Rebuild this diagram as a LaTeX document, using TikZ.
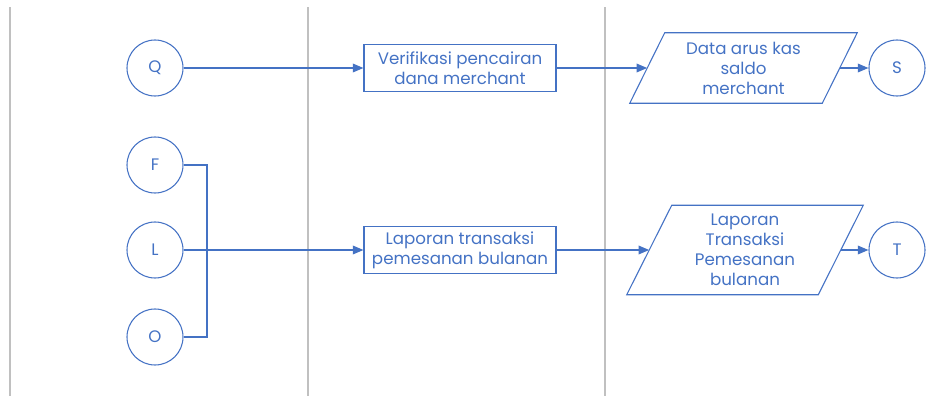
\documentclass[tikz,border=0pt]{standalone}
\usepackage{fontspec}
\setmainfont{Poppins}
\usetikzlibrary{arrows.meta}
\definecolor{flowblue}{HTML}{4472C4}
\definecolor{lanegray}{HTML}{C0C0C0}
\begin{document}
\begin{tikzpicture}[x=0.75pt,y=-0.75pt,
  lane/.style={draw=lanegray, line width=0.8pt},
  conn/.style={draw=flowblue, line width=1pt},
  arr/.style={conn, -{Triangle[length=8pt,width=6.5pt]}},
  txt/.style={text=flowblue, font=\fontsize{12.5}{15}\selectfont, align=center},
  offpage/.style={txt, circle, draw=flowblue, line width=0.8pt, minimum size=42pt, inner sep=0pt},
  procbox/.style={txt, rectangle, draw=flowblue, line width=0.8pt, minimum width=144pt, minimum height=35.25pt, inner sep=0pt},
  datafield/.style={txt, rectangle, inner sep=0pt}
]
\useasboundingbox (0,0) rectangle (936,396);

% swimlane separators
\draw[lane] (10,7) -- (10,396);
\draw[lane] (308,7) -- (308,396);
\draw[lane] (605,7) -- (605,396);

% off-page connectors
\node[offpage] (Q) at (155,68) {Q};
\node[offpage] (F) at (155,165) {F};
\node[offpage] (L) at (155,250) {L};
\node[offpage] (O) at (155,337) {O};
\node[offpage] (S) at (897,68) {S};
\node[offpage] (T) at (897,250) {T};

% processes
\node[procbox] (verif) at (460,68) {Verifikasi pencairan\\dana merchant};
\node[procbox] (lapor) at (460,250) {Laporan transaksi\\pemesanan bulanan};

% data (parallelograms)
\node[datafield, minimum width=144pt, minimum height=52.5pt] (kas) at (743.5,68) {Data arus kas\\saldo\\merchant};
\draw[conn, line width=0.8pt] ([xshift=13.125pt]kas.north west) -- ([xshift=13.125pt]kas.north east)
  -- ([xshift=-13.125pt]kas.south east) -- ([xshift=-13.125pt]kas.south west) -- cycle;

\node[datafield, minimum width=143.25pt, minimum height=66.75pt] (rep) at (745,250) {Laporan\\Transaksi\\Pemesanan\\bulanan};
\draw[conn, line width=0.8pt] ([xshift=16.875pt]rep.north west) -- ([xshift=16.875pt]rep.north east)
  -- ([xshift=-16.875pt]rep.south east) -- ([xshift=-16.875pt]rep.south west) -- cycle;

% flows
\draw[arr] (Q.east) -- (verif.west);
\draw[arr] (verif.east) -- (verif.east -| kas.west);
\draw[arr] (kas.east) -- (S.west);

\coordinate (join) at (207,250);
\draw[conn] (F.east) -- (F.east -| join) -- (O.east -| join) -- (O.east);
\draw[arr] (L.east) -- (lapor.west);
\draw[arr] (lapor.east) -- (lapor.east -| rep.west);
\draw[arr] (rep.east) -- (T.west);
\end{tikzpicture}
\end{document}
